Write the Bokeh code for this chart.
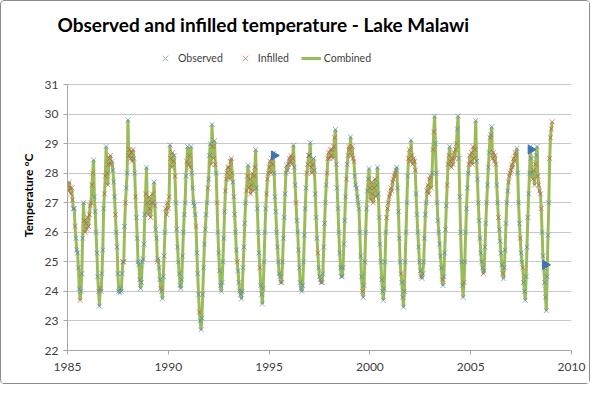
import numpy as np
from bokeh.plotting import figure
from bokeh.models import Legend, LegendItem, FixedTicker, Range1d
from bokeh.embed import file_html
from bokeh.resources import INLINE

# Semi-monthly temperature readings (°C), 24 per year
temp_1985 = [27.6, 27.4, 27.7, 27.5, 27.3, 27.5, 27.1, 26.8, 26.8, 26.2, 25.8, 25.4, 25.3, 24.8, 24.1, 23.7, 24.0, 24.6, 25.8, 27.0, 26.4, 26.0, 26.3, 26.1]
temp_1986 = [26.5, 26.2, 26.6, 26.9, 27.0, 27.6, 28.0, 28.45, 27.2, 26.7, 26.0, 25.3, 24.5, 24.0, 23.5, 24.1, 24.0, 24.6, 25.4, 26.8, 27.3, 27.9, 28.9, 28.0]
temp_1987 = [27.6, 28.3, 28.5, 28.6, 28.3, 28.4, 28.1, 27.7, 27.2, 26.6, 26.0, 25.5, 24.6, 24.0, 23.95, 24.1, 24.0, 24.6, 25.0, 25.0, 26.2, 27.0, 27.5, 28.0]
temp_1988 = [29.8, 28.6, 28.8, 28.5, 28.7, 28.4, 28.8, 28.5, 28.0, 27.2, 26.5, 25.8, 25.0, 24.9, 24.4, 24.1, 24.3, 25.0, 25.1, 25.6, 26.6, 27.3, 28.2, 27.0]
temp_1989 = [26.6, 27.2, 26.8, 26.5, 27.0, 27.3, 27.0, 27.7, 26.9, 26.1, 25.8, 25.0, 25.1, 24.8, 24.4, 24.1, 24.0, 23.75, 24.5, 25.2, 26.0, 26.8, 26.6, 27.0]
temp_1990 = [26.8, 27.2, 28.95, 28.5, 28.2, 28.7, 28.4, 28.6, 27.9, 27.0, 26.1, 25.5, 25.0, 24.6, 24.2, 24.1, 24.4, 25.2, 26.0, 26.6, 27.0, 27.9, 28.4, 28.9]
temp_1991 = [28.3, 28.6, 28.2, 28.9, 28.0, 27.5, 27.0, 26.9, 26.6, 26.2, 25.3, 24.6, 23.9, 23.3, 23.0, 22.7, 23.1, 23.9, 24.8, 25.6, 26.1, 26.6, 27.0, 27.5]
temp_1992 = [27.8, 28.6, 29.0, 28.3, 29.65, 28.9, 28.5, 29.1, 28.3, 28.0, 27.0, 26.0, 25.3, 24.7, 24.2, 24.0, 24.3, 25.0, 25.8, 26.7, 27.4, 27.8, 28.0, 28.2]
temp_1993 = [28.2, 27.8, 28.4, 28.5, 28.0, 27.7, 27.2, 26.6, 26.0, 25.4, 25.0, 24.7, 24.3, 24.0, 23.9, 23.75, 24.0, 24.8, 25.5, 26.3, 27.0, 27.4, 27.9, 28.27]
temp_1994 = [27.5, 27.8, 27.3, 27.6, 28.0, 27.4, 27.9, 28.2, 28.8, 27.5, 26.8, 26.0, 25.3, 24.8, 24.2, 23.9, 23.58, 24.1, 25.0, 26.0, 26.8, 27.3, 27.8, 28.0]
temp_1995 = [28.2, 28.4, 28.0, 28.5, 28.3, 28.67, 28.0, 27.2, 26.7, 26.0, 25.5, 25.0, 24.6, 24.5, 24.3, 24.3, 25.0, 25.8, 26.5, 27.3, 28.0, 28.27, 28.1, 28.3]
temp_1996 = [28.5, 28.4, 28.6, 28.3, 28.5, 28.95, 28.2, 27.6, 27.0, 26.4, 26.0, 25.4, 24.8, 24.3, 24.1, 24.0, 24.2, 25.0, 25.9, 26.8, 27.5, 28.0, 28.3, 28.6]
temp_1997 = [28.6, 29.03, 28.2, 28.0, 28.3, 28.5, 28.1, 27.3, 26.5, 25.8, 25.3, 24.8, 24.5, 24.4, 24.3, 24.3, 24.6, 25.5, 26.3, 27.0, 27.6, 28.0, 28.5, 28.7]
temp_1998 = [28.5, 28.8, 28.6, 28.8, 28.5, 28.9, 29.2, 29.48, 28.3, 27.5, 26.8, 26.0, 25.3, 24.8, 24.5, 24.5, 24.8, 25.6, 26.4, 27.2, 27.8, 28.3, 28.6, 28.9]
temp_1999 = [28.8, 29.23, 28.6, 28.9, 28.5, 28.4, 27.9, 27.6, 27.5, 27.2, 27.0, 26.8, 26.0, 25.2, 24.5, 24.0, 23.8, 24.2, 25.0, 26.0, 26.8, 27.4, 27.8, 28.16]
temp_2000 = [27.5, 27.1, 27.7, 27.3, 27.0, 27.5, 27.8, 27.2, 27.6, 28.2, 27.3, 26.5, 25.6, 25.0, 24.4, 24.0, 23.7, 24.1, 25.0, 26.0, 26.5, 26.8, 27.0, 27.2]
temp_2001 = [27.3, 27.5, 27.4, 27.7, 27.8, 27.9, 28.0, 28.1, 28.2, 27.5, 26.7, 25.8, 25.0, 24.6, 24.3, 23.8, 23.47, 24.0, 25.0, 26.0, 27.0, 27.9, 28.5, 28.8]
temp_2002 = [28.4, 29.12, 28.6, 28.3, 28.5, 28.4, 28.1, 27.3, 26.6, 26.0, 25.5, 25.0, 24.7, 24.5, 24.44, 24.6, 25.0, 25.8, 26.6, 27.0, 27.4, 27.6, 27.3, 27.8]
temp_2003 = [27.9, 27.5, 28.0, 28.8, 29.4, 29.93, 29.0, 28.0, 27.0, 26.4, 26.0, 25.6, 25.2, 24.8, 24.4, 24.2, 24.5, 25.3, 26.1, 26.9, 27.6, 28.3, 28.6, 28.9]
temp_2004 = [28.4, 28.2, 28.5, 28.3, 28.7, 28.5, 28.8, 29.0, 29.5, 29.93, 28.5, 27.2, 26.0, 25.0, 24.2, 23.8, 24.3, 25.0, 26.0, 26.8, 27.5, 28.0, 28.3, 28.6]
temp_2005 = [28.4, 28.7, 28.3, 28.9, 28.5, 28.8, 29.78, 28.4, 27.8, 27.0, 26.4, 25.8, 25.3, 25.0, 24.8, 24.6, 24.7, 25.5, 26.3, 27.0, 27.6, 28.2, 28.7, 29.2]
temp_2006 = [29.3, 29.57, 28.5, 28.7, 28.4, 28.6, 28.3, 27.6, 27.0, 26.5, 26.1, 25.7, 25.3, 24.9, 24.6, 24.43, 24.8, 25.4, 26.3, 27.0, 27.4, 27.7, 27.9, 28.0]
temp_2007 = [28.1, 28.3, 28.2, 28.5, 28.4, 28.7, 28.6, 28.84, 28.0, 27.0, 26.3, 25.8, 25.3, 25.0, 24.8, 24.3, 24.0, 23.7, 24.5, 25.5, 26.5, 27.3, 28.0, 28.9]
temp_2008 = [28.5, 28.0, 27.8, 28.1, 27.6, 28.3, 28.6, 28.9, 27.9, 27.6, 27.4, 27.3, 26.8, 26.0, 25.2, 24.8, 24.3, 23.8, 23.35, 24.5, 25.9, 27.0, 28.5, 29.2]
temp_2009 = [29.5, 29.74]

# Source of each reading: O = observed, I = infilled
src_1985 = "IIIIIIIOOIOOOOOIOOOOIIII"
src_1986 = "IIIIIIIOOOOOOOOIOOOOIIOI"
src_1987 = "IIIIIOOOOIOOOOOOOOIOOIOO"
src_1988 = "OIIIIIIOOIOOOOOOOOOOOIOI"
src_1989 = "IIIIIIOOIOOIOOOIOOOOOIII"
src_1990 = "IIOIIIIOIOOOOOOOOOOOOOIO"
src_1991 = "IIIOOOOOOIOOOIOOOOOOOOOI"
src_1992 = "OOOIOIIOIOIOOOOOOOOOIIII"
src_1993 = "IIIIIOOOOOIOOOOOOOOOOIIO"
src_1994 = "IIIIIIIIOOOOOIOOOOOOOIII"
src_1995 = "IIIIIOOOOOOOOOIOOOOOOOII"
src_1996 = "IIIIIOOOIOOOOOOOOOOOOIIO"
src_1997 = "IOIIIOOOOOIOOOIOOOOOOIII"
src_1998 = "IIIIIIIOOOOOOOOOOOOOIOII"
src_1999 = "IOIIIIOOOOOOOOOIOOOOOOOO"
src_2000 = "IIIIIIIIOOOOOOOOOOOOIIII"
src_2001 = "IIIIIIIOOOOOOIOOOOOOOOII"
src_2002 = "IOIIIIIOOOOOOIOOOOOOIIII"
src_2003 = "IIOIIOOOOOOOOOIOOOOOIIIO"
src_2004 = "IIIIIIIIOOOOOOOOIOOOOOII"
src_2005 = "IIIIIIOOOOOOOOOIOOOOOOOI"
src_2006 = "OOIIIIIOOIOOOOIOOOOOOIII"
src_2007 = "IIIIIIIOOOOIOOIOOOOOOOOO"
src_2008 = "OOIIIIOOIIIIIOOOOOOOOOII"
src_2009 = "II"

# Flagged observations (drawn as blue triangles)
flag_years = [1995.25, 2007.98, 2008.70]
flag_temps = [28.6, 28.8, 24.9]

x_ticks = [1985, 1990, 1995, 2000, 2005, 2010]
y_ticks = [22, 23, 24, 25, 26, 27, 28, 29, 30, 31]

years = list(range(1985, 2010))
temps = [temp_1985, temp_1986, temp_1987, temp_1988, temp_1989, temp_1990, temp_1991,
         temp_1992, temp_1993, temp_1994, temp_1995, temp_1996, temp_1997, temp_1998,
         temp_1999, temp_2000, temp_2001, temp_2002, temp_2003, temp_2004, temp_2005,
         temp_2006, temp_2007, temp_2008, temp_2009]
srcs = [src_1985, src_1986, src_1987, src_1988, src_1989, src_1990, src_1991,
        src_1992, src_1993, src_1994, src_1995, src_1996, src_1997, src_1998,
        src_1999, src_2000, src_2001, src_2002, src_2003, src_2004, src_2005,
        src_2006, src_2007, src_2008, src_2009]

t_all, v_all, s_all = [], [], []
for y, vals, ss in zip(years, temps, srcs):
    for k, (v, s) in enumerate(zip(vals, ss)):
        t_all.append(y + k / 24.0)
        v_all.append(v)
        s_all.append(s)

t_obs = [t for t, s in zip(t_all, s_all) if s == "O"]
v_obs = [v for v, s in zip(v_all, s_all) if s == "O"]
t_inf = [t for t, s in zip(t_all, s_all) if s == "I"]
v_inf = [v for v, s in zip(v_all, s_all) if s == "I"]

FONT = "Lato"
TXT = "#404040"

# frame: 504 px wide, 310 px tall (y range extended above 31 to hold the legend row)
p = figure(width=590, height=384, output_backend="svg", toolbar_location=None,
           x_range=Range1d(1985, 2010), y_range=Range1d(22, 32.49),
           min_border_left=66, min_border_right=20, min_border_top=39, min_border_bottom=35)
p.styles = {"border": "1px solid #8C8C8C", "border-radius": "4px"}
p.outline_line_color = None
p.background_fill_color = "white"

p.title.text = "Observed and infilled temperature - Lake Malawi"
p.title.align = "left"
p.title.offset = -10
p.title.standoff = 10
p.title.text_font = FONT
p.title.text_font_size = "19px"
p.title.text_font_style = "bold"
p.title.text_color = "black"

line_r = p.line(t_all, v_all, line_color="#9BBB59", line_width=3)
obs_r = p.scatter(t_obs, v_obs, marker="x", size=7, line_color="#4F81BD", line_alpha=0.65, line_width=1)
inf_r = p.scatter(t_inf, v_inf, marker="x", size=7, line_color="#C0504D", line_alpha=0.65, line_width=1)
p.scatter(flag_years, flag_temps, marker="triangle", size=9, angle=-np.pi / 2,
          fill_color="#3E73B5", line_color="#3E73B5")

legend = Legend(items=[LegendItem(label="Observed", renderers=[obs_r]),
                       LegendItem(label="Infilled", renderers=[inf_r]),
                       LegendItem(label="Combined", renderers=[line_r])],
                orientation="horizontal", location=(88, 282))
legend.border_line_color = None
legend.background_fill_alpha = 0
legend.label_text_font = FONT
legend.label_text_font_size = "10.5px"
legend.label_text_color = TXT
legend.glyph_width = 20
legend.glyph_height = 20
legend.spacing = 12
legend.label_standoff = 3
legend.padding = 0
legend.margin = 0
p.add_layout(legend, "center")

p.xaxis.ticker = FixedTicker(ticks=x_ticks)
p.yaxis.ticker = FixedTicker(ticks=y_ticks)
p.yaxis.bounds = (22, 31)
for ax in (p.xaxis, p.yaxis):
    ax.axis_line_color = "#A6A6A6"
    ax.major_tick_line_color = "#A6A6A6"
    ax.major_tick_in = 0
    ax.major_tick_out = 4
    ax.minor_tick_line_color = None
    ax.major_label_text_font = FONT
    ax.major_label_text_font_size = "12px"
    ax.major_label_text_color = TXT
p.xaxis.major_label_standoff = 8
p.yaxis.axis_label = "Temperature °C"
p.yaxis.axis_label_text_font = FONT
p.yaxis.axis_label_text_font_size = "12px"
p.yaxis.axis_label_text_font_style = "bold"
p.yaxis.axis_label_text_color = "black"
p.yaxis.axis_label_standoff = 6
p.xgrid.grid_line_color = None
p.ygrid.grid_line_color = "#C8C8C8"
p.ygrid.grid_line_width = 1

open("out.html", "w").write(file_html(p, INLINE))
